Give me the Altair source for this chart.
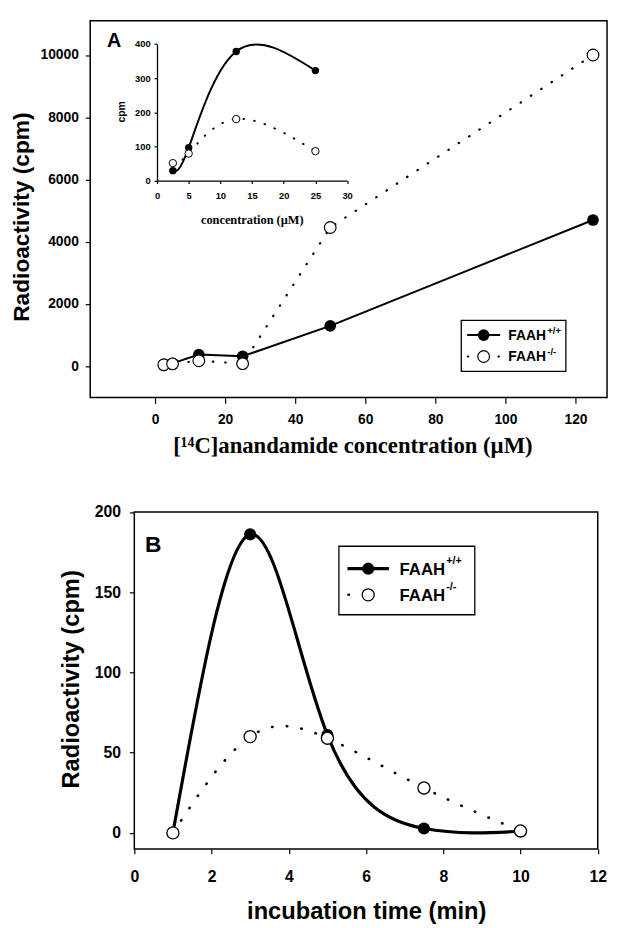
import altair as alt
import pandas as pd

# ---------------- data ----------------
conc_uM = [2.5, 5, 12.5, 25, 50, 125]
faah_wt_A = [29, 96, 378, 322, 1300, 4700]
faah_ko_A = [51, 79, 180, 86, 4460, 10000]

inset_conc_uM = [2.5, 5, 12.5, 25]
inset_wt_cpm = [29, 96, 378, 322]
inset_ko_cpm = [51, 79, 180, 86]

time_min = [1, 3, 5, 7.5, 10]
faah_wt_B = [0, 186, 61, 2.7, 1]
faah_ko_B = [0, 60, 59, 28, 1.2]

A_x_ticks = [0, 20, 40, 60, 80, 100, 120]
A_y_ticks = [0, 2000, 4000, 6000, 8000, 10000]
inset_x_ticks = [0, 5, 10, 15, 20, 25, 30]
inset_y_ticks = [0, 100, 200, 300, 400]
B_x_ticks = [0, 2, 4, 6, 8, 10, 12]
B_y_ticks = [0, 50, 100, 150, 200]

legend_labels = ["FAAH", "FAAH"]
legend_sups = ["+/+", "-/-"]

# ---------------- layout ----------------
W, H = 609, 921
SANS = "Liberation Sans"
SERIF = "Liberation Serif"

A_xdom, A_xrng = [-18.5, 129], [83.3, 607]
A_ydom, A_yrng = [-1000, 11100], [388.5, 6.8]
I_xdom, I_xrng = [0, 30], [151, 343.6]
I_ydom, I_yrng = [0, 400], [168.7, 30.3]
B_xdom, B_xrng = [0, 12], [128, 597.6]
B_ydom, B_yrng = [-10, 200], [846, 504.5]


def sc(dom, rng):
    return alt.Scale(domain=dom, range=rng, nice=False, zero=False)


def axis(orient, offset, values, lsize, tick, pad, title, tfont, tsize, tx, ty,
         domain=False, dw=1.5):
    return alt.Axis(orient=orient, offset=offset, values=values, format="d", grid=False,
                    domain=domain, domainColor="black", domainWidth=dw,
                    ticks=True, tickColor="black", tickSize=tick, tickWidth=1.2,
                    labelFont=SANS, labelFontWeight="bold", labelFontSize=lsize,
                    labelColor="black", labelPadding=pad, labelFlush=False,
                    labelOverlap=False,
                    title=title, titleFont=tfont, titleFontWeight="bold",
                    titleFontSize=tsize, titleColor="black", titleX=tx, titleY=ty,
                    titleAlign="center", titleBaseline="middle")


def frame(xdom, xrng, ydom, yrng, xax, yax, sw=1.5):
    d = pd.DataFrame({"x": [xdom[0]], "x2": [xdom[1]], "y": [ydom[0]], "y2": [ydom[1]]})
    return alt.Chart(d).mark_rect(fill="transparent", stroke="black", strokeWidth=sw).encode(
        x=alt.X("x:Q", scale=sc(xdom, xrng), axis=xax), x2="x2:Q",
        y=alt.Y("y:Q", scale=sc(ydom, yrng), axis=yax), y2="y2:Q")


def series(x, ywt, yko, xdom, xrng, ydom, yrng, interp, ws, wd, dash, size, osw,
           xax=None, yax=None):
    dwt = pd.DataFrame({"x": x, "y": ywt})
    dko = pd.DataFrame({"x": x, "y": yko})

    def enc(ax_x=None, ax_y=None):
        return dict(x=alt.X("x:Q", scale=sc(xdom, xrng), axis=ax_x),
                    y=alt.Y("y:Q", scale=sc(ydom, yrng), axis=ax_y))

    l1 = alt.Chart(dwt).mark_line(color="black", strokeWidth=ws, interpolate=interp).encode(
        **enc(xax, yax))
    l2 = alt.Chart(dko).mark_line(color="black", strokeWidth=wd, interpolate=interp,
                                  strokeDash=dash, strokeCap="round").encode(**enc())
    p1 = alt.Chart(dwt).mark_point(shape="circle", filled=True, color="black", size=size,
                                   opacity=1).encode(**enc())
    p2 = alt.Chart(dko).mark_point(shape="circle", filled=True, fill="white", stroke="black",
                                   strokeWidth=osw, size=size, opacity=1).encode(**enc())
    return [l1, l2, p1, p2]


one = pd.DataFrame({"k": [0]})


def txt(s, x, y, size, font=SANS, align="left", baseline="middle"):
    return alt.Chart(one).mark_text(font=font, fontWeight="bold", fontSize=size, color="black",
                                    align=align, baseline=baseline).encode(
        x=alt.value(x), y=alt.value(y), text=alt.value(s))


def legend(box, rows, line_x, mark_x, dot_x, text_x, sup_x, sup_dy, fs, sfs, lw, dw, dash,
           size, osw):
    parts = [alt.Chart(one).mark_rect(fill="white", stroke="black", strokeWidth=1.3).encode(
        x=alt.value(box[0]), x2=alt.value(box[1]), y=alt.value(box[2]), y2=alt.value(box[3]))]
    parts.append(alt.Chart(one).mark_rule(color="black", strokeWidth=lw).encode(
        x=alt.value(line_x[0]), x2=alt.value(line_x[1]), y=alt.value(rows[0])))
    parts.append(alt.Chart(one).mark_point(shape="circle", filled=True, color="black",
                                           size=size, opacity=1).encode(
        x=alt.value(mark_x), y=alt.value(rows[0])))
    parts.append(alt.Chart(one).mark_rule(color="black", strokeWidth=dw, strokeDash=dash,
                                          strokeCap="round").encode(
        x=alt.value(dot_x[0]), x2=alt.value(dot_x[1]), y=alt.value(rows[1])))
    parts.append(alt.Chart(one).mark_point(shape="circle", filled=True, fill="white",
                                           stroke="black", strokeWidth=osw, size=size,
                                           opacity=1).encode(
        x=alt.value(mark_x), y=alt.value(rows[1])))
    for r, lab, sup in zip(rows, legend_labels, legend_sups):
        parts.append(txt(lab, text_x, r + 1, fs))
        parts.append(txt(sup, sup_x, r - sup_dy, sfs))
    return parts


layers = []

# ---- Panel A main ----
axA_x = axis("bottom", A_yrng[0] - H, A_x_ticks, 14, 6, 9,
             "[¹⁴C]anandamide concentration (µM)", SERIF, 23, 349, 48.5)
axA_y = axis("left", -A_xrng[0], A_y_ticks, 14, 5, 7,
             "Radioactivity (cpm)", SANS, 23, 13.7 - A_xrng[0], 205.3)
layers.append(frame(A_xdom, A_xrng, A_ydom, A_yrng, axA_x, axA_y))
layers += series(conc_uM, faah_wt_A, faah_ko_A, A_xdom, A_xrng, A_ydom, A_yrng,
                 "linear", 2, 2.2, [0.5, 12], 140, 1.2)
layers.append(txt("A", 100.3, 33.7, 20, baseline="alphabetic"))
layers += legend([459.3, 565.3, 310.3, 362], [325.3, 347], [465.3, 498.7], 482,
                 [466, 498], 507, 546.5, 4.5, 14, 9.5, 2, 2.2, [0.5, 15], 140, 1.2)

# ---- Inset ----
axI_x = axis("bottom", I_yrng[0] - H, inset_x_ticks, 9.5, 3, 7,
             "concentration (µM)", SERIF, 12.5, 247, 39.1, domain=True, dw=1.3)
axI_y = axis("left", -I_xrng[0], inset_y_ticks, 9.5, 3, 4,
             "cpm", SANS, 10.5, 115.3 - I_xrng[0], 98.7, domain=True, dw=1.3)
layers += series(inset_conc_uM, inset_wt_cpm, inset_ko_cpm, I_xdom, I_xrng, I_ydom, I_yrng,
                 "natural", 2, 2, [0.5, 10.5], 56, 1, xax=axI_x, yax=axI_y)

# ---- Panel B ----
axB_x = axis("bottom", B_yrng[0] - H, B_x_ticks, 16, 5, 15,
             "incubation time (min)", SANS, 24, 363, 63.4)
axB_y = axis("left", -B_xrng[0], B_y_ticks, 16, 5, 9,
             "Radioactivity (cpm)", SANS, 24, 64.8 - B_xrng[0], 673.7)
layers.append(frame(B_xdom, B_xrng, B_ydom, B_yrng, axB_x, axB_y))
layers += series(time_min, faah_wt_B, faah_ko_B, B_xdom, B_xrng, B_ydom, B_yrng,
                 "natural", 3.2, 2.6, [0.5, 14.5], 150, 1.3)
layers.append(txt("B", 138.7, 545.3, 23, baseline="alphabetic"))
layers += legend([335.3, 473, 539.3, 608.7], [562, 588.5], [344, 386], 365,
                 [345, 377], 396.7, 444, 8, 17, 11, 3.2, 2.6, [0.5, 15.5], 150, 1.3)

chart = alt.layer(*layers).resolve_scale(x="independent", y="independent").properties(
    width=W, height=H, autosize="none", padding=0
).configure_view(strokeWidth=0)

chart.save("out.html", embed_options={"renderer": "svg", "actions": False})
